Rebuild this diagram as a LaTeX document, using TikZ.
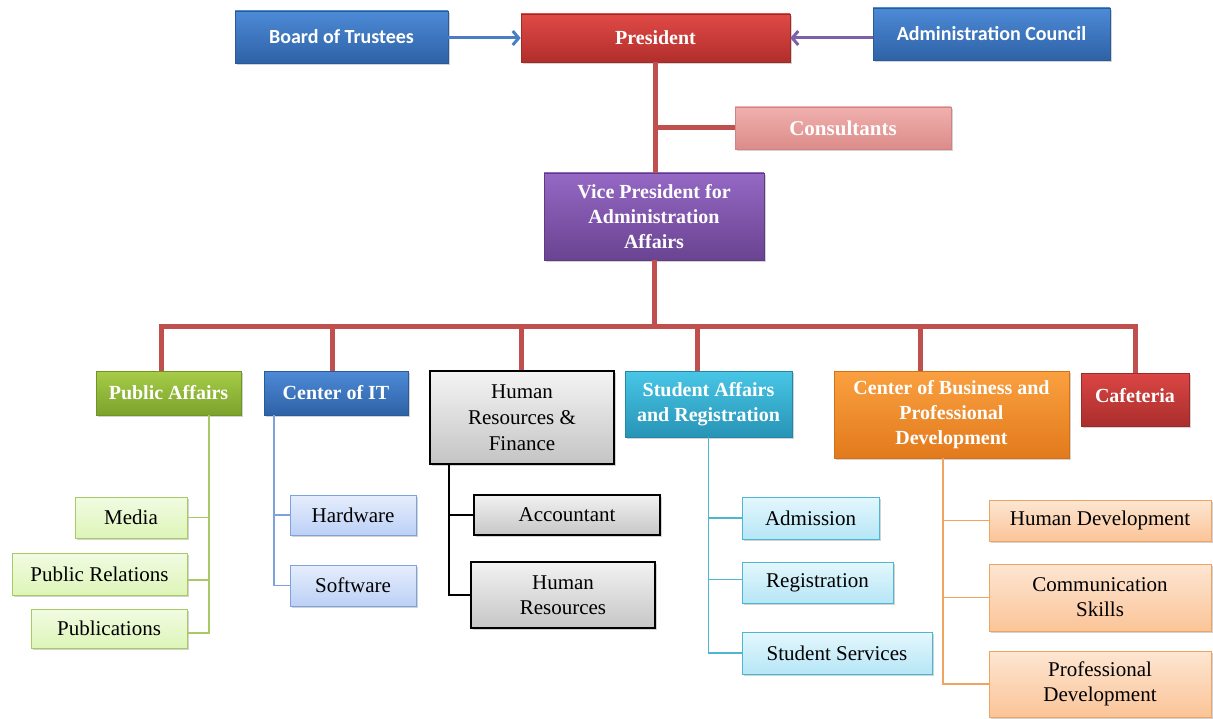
\documentclass[tikz,border=0pt]{standalone}
\usepackage{fontspec}
\setmainfont{Liberation Serif}
\newfontfamily\calfont{Carlito}
\usetikzlibrary{shadows,arrows.meta,calc}
\definecolor{redline}{HTML}{C0504D}
\definecolor{blT}{HTML}{4D8AD6}\definecolor{blB}{HTML}{2E62A6}\definecolor{blD}{HTML}{2A5A98}
\definecolor{rdT}{HTML}{E04A46}\definecolor{rdB}{HTML}{B12E2B}\definecolor{rdD}{HTML}{A02A28}
\definecolor{pkT}{HTML}{F0B0AE}\definecolor{pkB}{HTML}{DC8C89}\definecolor{pkD}{HTML}{D08380}
\definecolor{puT}{HTML}{9468C4}\definecolor{puB}{HTML}{6A4391}\definecolor{puD}{HTML}{5E3C82}
\definecolor{grT}{HTML}{A6CC48}\definecolor{grB}{HTML}{7CA22C}\definecolor{grD}{HTML}{6F9428}
\definecolor{gyT}{HTML}{F4F4F4}\definecolor{gyB}{HTML}{C4C4C4}
\definecolor{cyT}{HTML}{48C6E6}\definecolor{cyB}{HTML}{2894B6}\definecolor{cyD}{HTML}{2388A8}
\definecolor{orT}{HTML}{FAA040}\definecolor{orB}{HTML}{E27A1C}\definecolor{orD}{HTML}{D47018}
\definecolor{cfT}{HTML}{DA4644}\definecolor{cfB}{HTML}{AA2E2C}\definecolor{cfD}{HTML}{9C2A28}
\definecolor{kgT}{HTML}{F2FBE2}\definecolor{kgB}{HTML}{DDF5B8}\definecolor{kgD}{HTML}{A8CA64}
\definecolor{kbT}{HTML}{E6EEFC}\definecolor{kbB}{HTML}{BCD0F6}\definecolor{kbD}{HTML}{7DA2DE}
\definecolor{kyT}{HTML}{F2F2F2}\definecolor{kyB}{HTML}{C6C6C6}
\definecolor{kcT}{HTML}{E4F7FD}\definecolor{kcB}{HTML}{B6E6F6}\definecolor{kcD}{HTML}{4DB6D2}
\definecolor{koT}{HTML}{FDE6D2}\definecolor{koB}{HTML}{FBC498}\definecolor{koD}{HTML}{F0A462}
\definecolor{arB}{HTML}{4A7EC4}\definecolor{arP}{HTML}{7E60AA}
\tikzset{
  box/.style={rectangle, inner sep=2pt, align=center, drop shadow={shadow xshift=2pt, shadow yshift=-2pt, opacity=0.35}},
  head/.style n args={3}{box, top color=#1, bottom color=#2, draw=#3, line width=0.6pt, text=white,
      font=\fontsize{20}{25}\selectfont\bfseries},
  kid/.style n args={3}{box, top color=#1, bottom color=#2, draw=#3, line width=1pt, text=black,
      font=\fontsize{21}{25}\selectfont},
  redc/.style={draw=redline, line width=5pt},
  gline/.style={draw=#1, line width=1.5pt},
}
\begin{document}
\begin{tikzpicture}[x=1pt,y=-1pt]
\useasboundingbox (0,0) rectangle (1213,719);
\coordinate (bus) at (655,327);
% top row
\node[head={blT}{blB}{blD}, minimum width=213pt, minimum height=52pt, font=\fontsize{20}{25}\selectfont\calfont\bfseries] (bot) at (341.5,37) {Board of Trustees};
\node[head={rdT}{rdB}{rdD}, minimum width=269pt, minimum height=48pt] (pres) at (655.5,38) {President};
\node[head={blT}{blB}{blD}, minimum width=237pt, minimum height=52pt, font=\fontsize{20}{25}\selectfont\calfont\bfseries] (adm) at (991.5,34) {Administration Council};
\node[head={pkT}{pkB}{pkD}, minimum width=216pt, minimum height=42pt, font=\fontsize{21}{25}\selectfont\bfseries] (cons) at (843,128) {Consultants};
\node[head={puT}{puB}{puD}, minimum width=220pt, minimum height=87pt] (vp) at (654,216.5) {Vice President for\\Administration\\Affairs};
% second row
\node[head={grT}{grB}{grD}, minimum width=145pt, minimum height=44pt] (pa) at (168.5,393) {Public Affairs};
\node[head={blT}{blB}{blD}, minimum width=144pt, minimum height=44pt] (it) at (336,393) {Center of IT};
\node[head={gyT}{gyB}{black}, line width=1.2pt, text=black, font=\fontsize{21}{26}\selectfont, minimum width=184pt, minimum height=93pt] (hrf) at (522,417.5) {Human\\Resources \&\\Finance};
\node[head={cyT}{cyB}{cyD}, minimum width=167pt, minimum height=66pt] (sa) at (708.5,404) {Student Affairs\\and Registration};
\node[head={orT}{orB}{orD}, minimum width=235pt, minimum height=87pt] (cb) at (951.5,414.5) {Center of Business and\\Professional\\Development};
\node[head={cfT}{cfB}{cfD}, minimum width=108pt, minimum height=53pt, text depth=8pt] (caf) at (1135,399.5) {Cafeteria};
% children
\node[kid={kgT}{kgB}{kgD}, minimum width=112pt, minimum height=41pt] (media) at (131,517.5) {Media};
\node[kid={kgT}{kgB}{kgD}, minimum width=175pt, minimum height=42pt] (pr) at (99.5,574) {Public Relations};
\node[kid={kgT}{kgB}{kgD}, minimum width=156pt, minimum height=39pt] (pub) at (109,628.5) {Publications};
\node[kid={kbT}{kbB}{kbD}, minimum width=126pt, minimum height=40pt] (hw) at (353,515) {Hardware};
\node[kid={kbT}{kbB}{kbD}, minimum width=126pt, minimum height=41pt] (sw) at (353,585.5) {Software};
\node[kid={kyT}{kyB}{black}, line width=1.2pt, minimum width=186pt, minimum height=40pt] (acc) at (567,515) {Accountant};
\node[kid={kyT}{kyB}{black}, line width=1.2pt, minimum width=184pt, minimum height=66pt] (hr) at (563,595) {Human\\Resources};
\node[kid={kcT}{kcB}{kcD}, minimum width=137pt, minimum height=42pt] (admi) at (810.5,518) {Admission};
\node[kid={kcT}{kcB}{kcD}, minimum width=151pt, minimum height=41pt] (reg) at (817.5,582.5) {Registration};
\node[kid={kcT}{kcB}{kcD}, minimum width=190pt, minimum height=42pt] (ss) at (837,653) {Student Services};
\node[kid={koT}{koB}{koD}, minimum width=222pt, minimum height=41pt] (hd) at (1100,520.5) {Human Development};
\node[kid={koT}{koB}{koD}, minimum width=222pt, minimum height=67pt] (cs) at (1100,597.5) {Communication\\Skills};
\node[kid={koT}{koB}{koD}, minimum width=222pt, minimum height=66pt] (pd) at (1100,684) {Professional\\Development};
% top arrows
\draw[draw=arB, line width=3pt, -{Straight Barb[length=6pt,width=14pt,line width=3pt]}] (bot.east |- pres.west) -- (pres.west);
\draw[draw=arP, line width=3pt, -{Straight Barb[length=6pt,width=14pt,line width=3pt]}] (adm.west |- pres.east) -- (pres.east);
% red spine
\draw[redc] (pres.south) -- (pres.south |- vp.north);
\draw[redc] (pres.south |- cons.west) -- (cons.west);
\draw[redc] (vp.south) -- (vp.south |- bus);
\draw[redc] ([xshift=-7.5pt]pa.north) |- (bus -| caf.north) -- (caf.north);
\draw[redc] ([xshift=-4pt]it.north) -- ([xshift=-4pt]it.north |- bus);
\draw[redc] ([xshift=-1pt]hrf.north) -- ([xshift=-1pt]hrf.north |- bus);
\draw[redc] ([xshift=-11.5pt]sa.north) -- ([xshift=-11.5pt]sa.north |- bus);
\draw[redc] ([xshift=-31.5pt]cb.north) -- ([xshift=-31.5pt]cb.north |- bus);
% child connectors
\coordinate (pat) at ([xshift=40.5pt]pa.south);
\draw[gline=kgD] (pat) |- ([yshift=-4.5pt]pub.east);
\draw[gline=kgD] (pat |- media.east) -- (media.east);
\draw[gline=kgD] ([yshift=-6pt]pat |- pr.east) -- ([yshift=-6pt]pr.east);
\coordinate (itt) at ([xshift=-62pt]it.south);
\draw[gline=kbD] (itt) |- (sw.west);
\draw[gline=kbD] (itt |- hw.west) -- (hw.west);
\coordinate (hrt) at ([xshift=-73pt]hrf.south);
\draw[gline=black] (hrt) |- (hr.west);
\draw[gline=black] (hrt |- acc.west) -- (acc.west);
\coordinate (sat) at (sa.south);
\draw[gline=kcD] (sat) |- (ss.west);
\draw[gline=kcD] (sat |- admi.west) -- (admi.west);
\draw[gline=kcD] ([yshift=3pt]sat |- reg.west) -- ([yshift=3pt]reg.west);
\coordinate (cbt) at ([xshift=-8.5pt]cb.south);
\draw[gline=koD] (cbt) |- (pd.west);
\draw[gline=koD] (cbt |- hd.west) -- (hd.west);
\draw[gline=koD] (cbt |- cs.west) -- (cs.west);
\end{tikzpicture}
\end{document}
